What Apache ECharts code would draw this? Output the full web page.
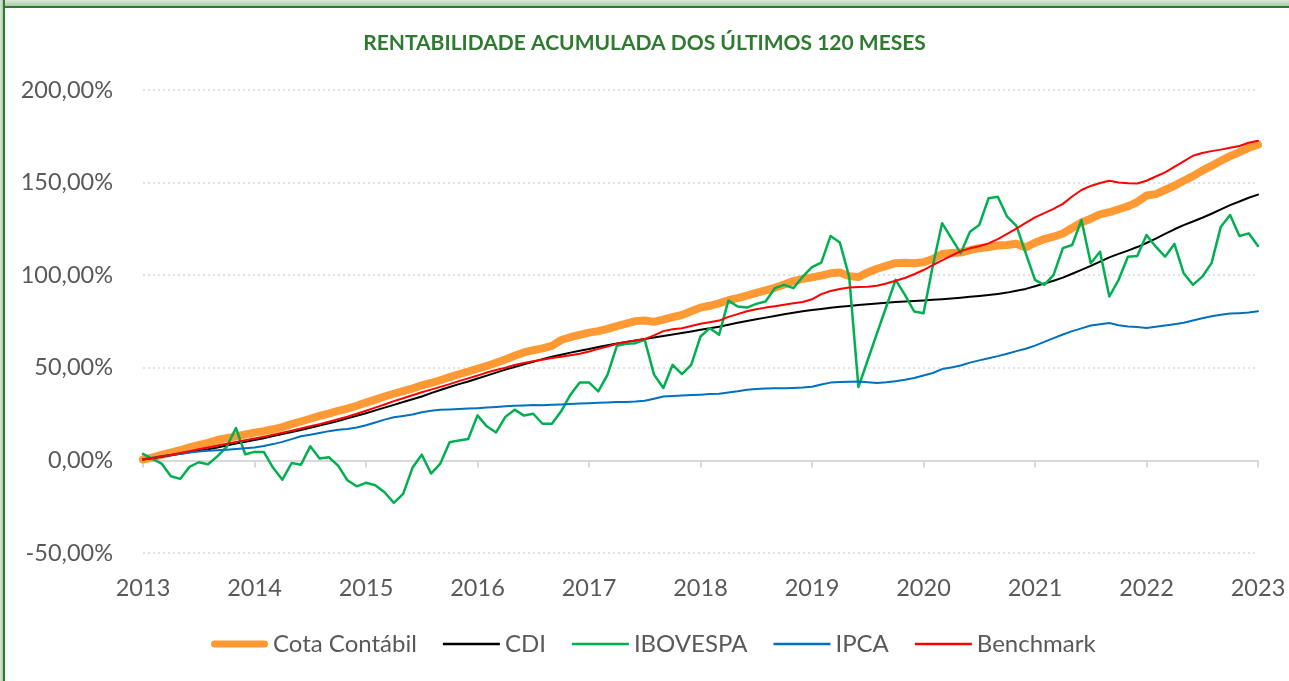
<!DOCTYPE html>
<html>
<head>
<meta charset="utf-8">
<script src="https://cdn.jsdelivr.net/npm/echarts@6/dist/echarts.min.js"></script>
<style>
  html, body { margin: 0; padding: 0; background: #fff; }
  #chart { position: absolute; left: 0; top: 0; width: 1289px; height: 681px; }
  .frame-top { position: absolute; left: 0; top: 0; width: 1289px; height: 6px;
    background: linear-gradient(#d9e8d9, #a8cba8); border-bottom: 2px solid #2e7a30; pointer-events: none; }
  .frame-left { position: absolute; left: 0; top: 0; width: 3px; height: 681px;
    background: linear-gradient(90deg, #d9e8d9, #a8cba8); border-right: 2px solid #2e7a30; pointer-events: none; }
</style>
</head>
<body>
<div id="chart"></div>
<div class="frame-top"></div>
<div class="frame-left"></div>
<script>
// eixo X: rótulos dos anos (um a cada 12 meses)
const yearLabels = ['2013', '2014', '2015', '2016', '2017', '2018', '2019', '2020', '2021', '2022', '2023'];

// rentabilidade acumulada mensal (%), 121 pontos
const cotaContabil = [
  0.5, 1.5, 3, 4.2, 5.5, 7, 8.3, 9.5, 11, 12, 13, 14,
  15, 15.8, 16.8, 18, 19.6, 21, 22.5, 24, 25.3, 26.8, 28, 29.5,
  31.2, 32.8, 34.5, 36, 37.4, 38.8, 40.5, 41.8, 43.3, 45, 46.5, 48,
  49.5, 51, 52.7, 54.5, 56.5, 58.3, 59.5, 60.5, 61.8, 65, 66.5, 67.8,
  69, 69.8, 71, 72.5, 73.8, 75.2, 75.5, 74.8, 76, 77.4, 78.5, 80.5,
  82.5, 83.5, 84.8, 86.5, 87.6, 89, 90.5, 91.8, 93.2, 95, 96.8, 98,
  98.8, 99.8, 101, 101.4, 99.5, 99, 101.5, 103.5, 105, 106.5, 106.7, 106.5,
  107, 108.8, 111.5, 112, 112.2, 113.5, 114.6, 115.2, 116, 116.3, 117, 115,
  117.5, 119.5, 120.8, 122.5, 125.5, 128.5, 130.5, 132.8, 134, 135.6, 137.2, 139.5,
  143, 143.8, 146, 148.3, 151, 153.5, 156.5, 159, 161.8, 164.3, 166.5, 168.8,
  170.5
];
const cdi = [
  0.5, 1.2, 2, 2.8, 3.6, 4.4, 5.2, 6, 7, 8, 9.1, 10,
  11, 12, 13.1, 14.2, 15.3, 16.4, 17.6, 18.8, 20, 21.3, 22.7, 24.1,
  25.5, 27, 28.5, 30, 31.5, 33, 34.5, 36.3, 38, 39.6, 41.2, 42.6,
  44.2, 45.8, 47.4, 49, 50.4, 51.9, 53.3, 54.7, 56, 57.1, 58.2, 59.2,
  60.2, 61.2, 62.2, 63.1, 63.9, 64.7, 65.5, 66.3, 67.2, 68, 68.8, 69.6,
  70.5, 71.3, 72.2, 73.2, 74.3, 75.3, 76.2, 77.1, 78, 78.9, 79.7, 80.5,
  81.2, 81.8, 82.4, 82.9, 83.4, 83.9, 84.3, 84.7, 85.1, 85.5, 85.8, 86.1,
  86.4, 86.7, 87, 87.4, 87.8, 88.3, 88.8, 89.3, 89.9, 90.6, 91.6, 92.6,
  94, 95.5, 97, 98.7, 100.8, 102.9, 105, 107.3, 109.6, 111.5, 113.3, 115.2,
  117.4, 119.8, 122.3, 124.8, 127, 129, 131, 133.2, 135.5, 137.8, 139.8, 141.8,
  143.5
];
const ibovespa = [
  3.5, 0.8, -1.7, -8.6, -10, -3.5, -1, -2.1, 2.2, 7.3, 17.5, 3.3,
  4.6, 4.6, -4, -10.4, -1.4, -2.3, 7.6, 1, 1.7, -2.8, -10.7, -14,
  -12.1, -13.4, -17.2, -22.9, -18.1, -4, 3.1, -7.1, -1.7, 9.8, 10.8, 11.6,
  24.3, 18.4, 15.1, 23.5, 27.4, 24.2, 25.2, 19.8, 19.8, 26.5, 35.5, 42.1,
  42.1, 37.3, 46.3, 61.9, 63, 63.3, 65.1, 46.3, 39.1, 51.6, 46.6, 51.6,
  66.9, 71.4, 67.8, 86.3, 83.1, 82.5, 84.5, 85.8, 93, 94.8, 93, 99.2,
  104.3, 106.8, 121.2, 117.6, 99.2, 39.6, 54.2, 68.7, 83.1, 97.5, 89.4, 80.4,
  79.5, 105, 128.1, 120, 111.9, 123.5, 127.1, 141.5, 142.4, 131.6, 126.6, 111.9,
  97.5, 94.8, 100.2, 114.6, 116.3, 129.8, 106.5, 112.7, 88.5, 97.5, 110, 110.4,
  121.7, 115.4, 110, 116.9, 101.1, 94.8, 99.2, 106.5, 126.2, 132.5, 121.2, 122.6,
  115.8
];
const ipca = [
  0.8, 1.5, 2.2, 2.9, 3.5, 4.2, 4.8, 5.2, 5.5, 5.8, 6.1, 6.5,
  7, 7.8, 8.8, 10, 11.5, 13, 13.8, 14.8, 15.8, 16.5, 17, 17.8,
  19, 20.5, 22, 23.3, 24, 24.8, 26, 26.8, 27.3, 27.5, 27.7, 28,
  28.2, 28.5, 28.8, 29.2, 29.5, 29.7, 29.9, 29.8, 30, 30.2, 30.5, 30.7,
  30.9, 31.1, 31.3, 31.5, 31.6, 31.8, 32.2, 33.3, 34.5, 34.8, 35, 35.3,
  35.5, 35.8, 36, 36.6, 37.3, 38.2, 38.6, 38.8, 38.9, 39, 39.1, 39.3,
  39.8, 41, 42, 42.3, 42.5, 42.6, 42.2, 41.8, 42.2, 42.8, 43.5, 44.5,
  45.8, 47.2, 49.3, 50.2, 51.2, 52.8, 54, 55.2, 56.3, 57.6, 59, 60.3,
  62, 64, 66, 68, 69.8, 71.3, 72.8, 73.5, 74.2, 73, 72.3, 72,
  71.5, 72.2, 72.8, 73.5, 74.3, 75.5, 76.8, 77.8, 78.7, 79.3, 79.5, 79.8,
  80.5
];
const benchmark = [
  0.5, 1.3, 2.2, 3, 4, 5, 6, 7, 8, 9, 10, 10.9,
  11.8, 12.8, 13.8, 14.9, 16, 17.2, 18.4, 19.6, 20.9, 22.2, 23.6, 25.2,
  26.8, 28.5, 30.2, 32, 33.6, 35.2, 36.8, 38.2, 39.7, 41.2, 42.8, 44.3,
  45.8, 47.5, 48.8, 50, 51.5, 52.6, 53.5, 54.3, 55.3, 56, 56.8, 57.6,
  58.8, 60.2, 61.5, 63, 64, 64.8, 65.5, 67.5, 69.8, 70.8, 71.4, 72.6,
  73.8, 74.6, 75.5, 77.5, 79, 80.5, 81.6, 82.5, 83.2, 84, 84.8, 85.5,
  87, 89.8, 91.5, 92.5, 93.4, 93.6, 93.7, 94.3, 95.5, 97, 98.5, 100.5,
  102.8, 105.5, 108, 110.5, 113, 114.5, 115.6, 117.2, 119.5, 122.3, 125.2, 128.2,
  131.2, 133.5, 135.8, 138.5, 142.5, 146, 148.2, 149.8, 151, 150, 149.6, 149.5,
  151, 153.3, 155.5, 158.5, 161.5, 164.5, 166, 167, 167.8, 168.8, 169.8, 171.5,
  172.6
];

const textColor = '#595959';
const gridColor = '#d9d9d9';
const font = 'Lato, "Open Sans", sans-serif';

// ícones da legenda: traço fino e traço grosso arredondado
const thinIcon = 'path://M0,0L57,0L57,2.5L0,2.5Z';
const thickIcon = 'path://M3.5,0L53.5,0A3.5,3.5,0,0,1,53.5,7L3.5,7A3.5,3.5,0,0,1,3.5,0Z';

// converte o array em pares [mês, valor]
const toPairs = arr => arr.map((v, i) => [i, v]);

const fmtPct = v => v.toFixed(2).replace('.', ',') + '%';

const chart = echarts.init(document.getElementById('chart'));

const lineSeries = (name, data, color, width) => ({
  name: name,
  type: 'line',
  xAxisIndex: 0,
  data: toPairs(data),
  symbol: 'none',
  lineStyle: {color: color, width: width, cap: 'round', join: 'round'},
  itemStyle: {color: color},
  emphasis: {disabled: true},
  animation: false
});

const option = {
  backgroundColor: '#fff',
  title: {
    text: 'RENTABILIDADE ACUMULADA DOS ÚLTIMOS 120 MESES',
    left: 'center',
    top: 28,
    textStyle: {color: '#2e7a30', fontSize: 21, fontWeight: 'bold', fontFamily: font}
  },
  legend: {
    left: 206,
    top: 627,
    itemWidth: 57,
    itemHeight: 14,
    itemGap: 26,
    symbolKeepAspect: true,
    textStyle: {color: textColor, fontSize: 24, fontFamily: font},
    data: [
      {name: 'Cota Contábil', icon: thickIcon},
      {name: 'CDI', icon: thinIcon},
      {name: 'IBOVESPA', icon: thinIcon},
      {name: 'IPCA', icon: thinIcon},
      {name: 'Benchmark', icon: thinIcon}
    ]
  },
  grid: {left: 143, right: 31, top: 90, bottom: 128},
  xAxis: [
    {
      // linha do zero com marcas anuais
      type: 'value',
      position: 'top',
      min: 0,
      max: 120,
      interval: 12,
      axisLine: {show: true, onZero: true, lineStyle: {color: gridColor, width: 2}},
      axisTick: {show: true, inside: true, length: 7, lineStyle: {color: gridColor, width: 2}},
      axisLabel: {show: false},
      splitLine: {show: false}
    },
    {
      // rótulos dos anos embaixo
      type: 'value',
      position: 'bottom',
      min: 0,
      max: 120,
      interval: 12,
      axisLine: {show: false, onZero: false},
      axisTick: {show: false},
      axisLabel: {
        margin: 23,
        color: textColor,
        fontSize: 23.5,
        fontFamily: font,
        formatter: v => yearLabels[Math.round(v / 12)]
      },
      splitLine: {show: false}
    }
  ],
  yAxis: {
    type: 'value',
    min: -50,
    max: 200,
    interval: 50,
    axisLine: {show: false},
    axisTick: {show: false},
    axisLabel: {margin: 30, color: textColor, fontSize: 23.5, fontFamily: font, formatter: fmtPct},
    splitLine: {lineStyle: {color: gridColor, width: 1.5, type: [2, 3]}}
  },
  series: [
    lineSeries('Cota Contábil', cotaContabil, '#ff9933', 8),
    lineSeries('CDI', cdi, '#000000', 2),
    lineSeries('IBOVESPA', ibovespa, '#00b050', 2.5),
    lineSeries('IPCA', ipca, '#0070c0', 2),
    lineSeries('Benchmark', benchmark, '#ff0000', 2)
  ]
};

chart.setOption(option);
</script>
</body>
</html>
